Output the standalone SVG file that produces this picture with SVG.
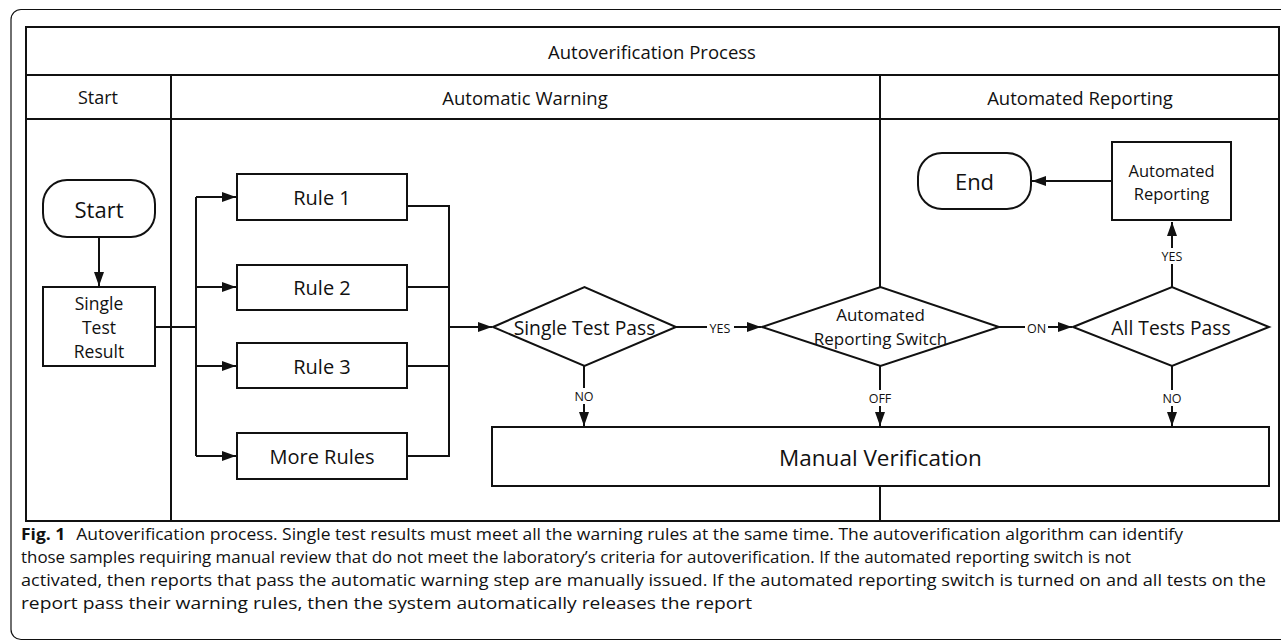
<svg xmlns="http://www.w3.org/2000/svg" width="1281" height="641" viewBox="0 0 1281 641">
<style>
.t{font-family:"Open Sans","Noto Sans","Liberation Sans",sans-serif;fill:#111;text-anchor:middle;dominant-baseline:central}
.ln{stroke:#111;stroke-width:2;fill:none}
.nd{stroke:#111;stroke-width:2;fill:#fff}
.lb{font-family:"Open Sans","Noto Sans","Liberation Sans",sans-serif;font-size:12.5px;fill:#111;text-anchor:middle;dominant-baseline:central}
.cap{font-family:"Open Sans","Noto Sans","Liberation Sans",sans-serif;font-size:16.5px;fill:#111}
</style>
<defs>
<marker id="ah" markerUnits="userSpaceOnUse" markerWidth="16" markerHeight="12" refX="14" refY="5" orient="auto">
<path d="M0,0 L14,5 L0,10 z" fill="#111"/>
</marker>
</defs>
<rect width="1281" height="641" fill="#fff"/>
<rect x="11" y="9.5" width="1290" height="630" rx="10" fill="none" stroke="#111" stroke-width="1.2"/>

<g id="table">
<rect x="26" y="27" width="1253" height="494" class="ln"/>
<line x1="26" y1="75" x2="1279" y2="75" class="ln"/>
<line x1="26" y1="119" x2="1279" y2="119" class="ln"/>
<line x1="171" y1="75" x2="171" y2="521" class="ln"/>
<line x1="880" y1="75" x2="880" y2="287" class="ln"/>
<line x1="880" y1="486" x2="880" y2="521" class="ln"/>
<text x="652" y="51" class="t" font-size="18.5">Autoverification Process</text>
<text x="98" y="97" class="t" font-size="18">Start</text>
<text x="525" y="97" class="t" font-size="18.5">Automatic Warning</text>
<text x="1080" y="97" class="t" font-size="18.5">Automated Reporting</text>
</g>

<g id="connectors">
<line x1="99" y1="237" x2="99" y2="286" class="ln" marker-end="url(#ah)"/>
<line x1="155" y1="327" x2="196" y2="327" class="ln"/>
<line x1="196" y1="197" x2="196" y2="456" class="ln"/>
<line x1="196" y1="197" x2="236" y2="197" class="ln" marker-end="url(#ah)"/>
<line x1="196" y1="287" x2="236" y2="287" class="ln" marker-end="url(#ah)"/>
<line x1="196" y1="366" x2="236" y2="366" class="ln" marker-end="url(#ah)"/>
<line x1="196" y1="456" x2="236" y2="456" class="ln" marker-end="url(#ah)"/>
<line x1="407" y1="206" x2="449" y2="206" class="ln"/>
<line x1="407" y1="287" x2="449" y2="287" class="ln"/>
<line x1="407" y1="366" x2="449" y2="366" class="ln"/>
<line x1="407" y1="456" x2="449" y2="456" class="ln"/>
<line x1="449" y1="205" x2="449" y2="457" class="ln"/>
<line x1="449" y1="327" x2="492" y2="327" class="ln" marker-end="url(#ah)"/>
<line x1="676" y1="327" x2="761" y2="327" class="ln" marker-end="url(#ah)"/>
<rect x="707" y="319" width="27" height="16" fill="#fff"/>
<text x="720" y="328" class="lb">YES</text>
<line x1="999" y1="327" x2="1072" y2="327" class="ln" marker-end="url(#ah)"/>
<rect x="1025" y="319" width="23" height="16" fill="#fff"/>
<text x="1036.5" y="328" class="lb">ON</text>
<line x1="584" y1="366" x2="584" y2="426" class="ln" marker-end="url(#ah)"/>
<rect x="572" y="388" width="24" height="16" fill="#fff"/>
<text x="584" y="396" class="lb">NO</text>
<line x1="880" y1="366" x2="880" y2="426" class="ln" marker-end="url(#ah)"/>
<rect x="866" y="390" width="28" height="16" fill="#fff"/>
<text x="880" y="398" class="lb">OFF</text>
<line x1="1172" y1="366" x2="1172" y2="426" class="ln" marker-end="url(#ah)"/>
<rect x="1160" y="390" width="24" height="16" fill="#fff"/>
<text x="1172" y="398" class="lb">NO</text>
<line x1="1172" y1="287" x2="1172" y2="222" class="ln" marker-end="url(#ah)"/>
<rect x="1158" y="248" width="28" height="16" fill="#fff"/>
<text x="1172" y="256" class="lb">YES</text>
<line x1="1112" y1="181" x2="1032" y2="181" class="ln" marker-end="url(#ah)"/>
</g>

<g id="start">
<rect x="43" y="180" width="112" height="57" rx="24" class="nd"/>
<text x="99" y="209" class="t" font-size="22">Start</text>
</g>
<g id="single-test-result">
<rect x="43" y="287" width="112" height="79" class="nd"/>
<text x="99" y="303" class="t" font-size="17.5">Single</text>
<text x="99" y="327" class="t" font-size="17.5">Test</text>
<text x="99" y="351" class="t" font-size="17.5">Result</text>
</g>
<g id="rule1"><rect x="237" y="174" width="170" height="46" class="nd"/><text x="322" y="197" class="t" font-size="20">Rule 1</text></g>
<g id="rule2"><rect x="237" y="265" width="170" height="45" class="nd"/><text x="322" y="287" class="t" font-size="20">Rule 2</text></g>
<g id="rule3"><rect x="237" y="343" width="170" height="45" class="nd"/><text x="322" y="366" class="t" font-size="20">Rule 3</text></g>
<g id="more-rules"><rect x="237" y="433" width="170" height="46" class="nd"/><text x="322" y="456" class="t" font-size="20">More Rules</text></g>
<g id="single-test-pass">
<polygon points="493,327 584.5,287 676,327 584.5,366" class="nd"/>
<text x="584.5" y="327" class="t" font-size="19.3">Single Test Pass</text>
</g>
<g id="reporting-switch">
<polygon points="762,327 880.5,287 999,327 880.5,366" class="nd"/>
<text x="880.5" y="314" class="t" font-size="17">Automated</text>
<text x="880.5" y="338" class="t" font-size="17">Reporting Switch</text>
</g>
<g id="all-tests-pass">
<polygon points="1073,327 1172,287 1269,327 1172,366" class="nd"/>
<text x="1171" y="327" class="t" font-size="19.3">All Tests Pass</text>
</g>
<g id="automated-reporting">
<rect x="1112" y="142" width="119" height="78" class="nd"/>
<text x="1171.5" y="170" class="t" font-size="16.5">Automated</text>
<text x="1171.5" y="193" class="t" font-size="16.5">Reporting</text>
</g>
<g id="end">
<rect x="918" y="153" width="113" height="56" rx="24" class="nd"/>
<text x="974.5" y="181" class="t" font-size="22">End</text>
</g>
<g id="manual-verification">
<rect x="492" y="427" width="777" height="59" class="nd"/>
<text x="880.5" y="457" class="t" font-size="22.5">Manual Verification</text>
</g>

<g id="caption">
<text x="21" y="540" class="cap" textLength="1162" lengthAdjust="spacingAndGlyphs"><tspan font-weight="bold">Fig. 1</tspan><tspan dx="6"> Autoverification process. Single test results must meet all the warning rules at the same time. The autoverification algorithm can identify</tspan></text>
<text x="21" y="563" class="cap" textLength="1110" lengthAdjust="spacingAndGlyphs">those samples requiring manual review that do not meet the laboratory’s criteria for autoverification. If the automated reporting switch is not</text>
<text x="21" y="586" class="cap" textLength="1245" lengthAdjust="spacingAndGlyphs">activated, then reports that pass the automatic warning step are manually issued. If the automated reporting switch is turned on and all tests on the</text>
<text x="21" y="609" class="cap" textLength="731" lengthAdjust="spacingAndGlyphs">report pass their warning rules, then the system automatically releases the report</text>
</g>
</svg>
